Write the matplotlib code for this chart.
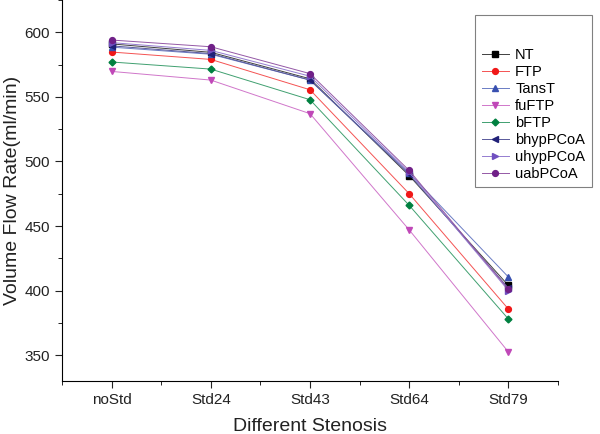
import matplotlib
matplotlib.use("Agg")
import matplotlib.pyplot as plt
from matplotlib.colors import to_rgb
from matplotlib.ticker import MultipleLocator, FixedLocator

plt.rcParams['font.family'] = ['Liberation Sans', 'DejaVu Sans']

stenosis = ['noStd', 'Std24', 'Std43', 'Std64', 'Std79']

nt = [591, 584.5, 564, 489, 404]
ftp = [584.7, 579, 555.5, 475, 385.7]
tanst = [588.5, 583, 563, 491, 410.5]
fuftp = [569.7, 563, 537, 447, 352.5]
bftp = [577, 571.5, 547.8, 466, 378]
bhyp = [589.5, 583.5, 563, 490, 402]
uhyp = [592, 586, 566, 491.5, 400]
uab = [594, 588.8, 568, 493, 401]

series = [
    ('NT', nt, '#000000', 's'),
    ('FTP', ftp, '#f01818', 'o'),
    ('TansT', tanst, '#3850b0', '^'),
    ('fuFTP', fuftp, '#c048b8', 'v'),
    ('bFTP', bftp, '#008040', 'D'),
    ('bhypPCoA', bhyp, '#202078', '<'),
    ('uhypPCoA', uhyp, '#7050c0', '>'),
    ('uabPCoA', uab, '#702088', 'o'),
]


def lighten(c, f=0.25):
    r, g, b = to_rgb(c)
    return (r + (1 - r) * f, g + (1 - g) * f, b + (1 - b) * f)


fig = plt.figure(figsize=(6, 4.34), dpi=100)
ax = fig.add_axes([62/600, 53/434, 496/600, 381/434])

x = list(range(len(stenosis)))
for name, vals, col, mk in series:
    ms = 3.5 if mk == 'D' else 4.2
    ax.plot(x, vals, color=lighten(col), lw=0.7, marker=mk, ms=ms,
            mfc=col, mec=col, label=name)

ax.set_xlim(-0.5, 4.5)
ax.set_ylim(330, 625)
ax.set_xticks(x)
ax.set_xticklabels(stenosis)
ax.xaxis.set_minor_locator(FixedLocator([-0.5, 0.5, 1.5, 2.5, 3.5, 4.5]))
ax.yaxis.set_major_locator(MultipleLocator(50))
ax.yaxis.set_minor_locator(MultipleLocator(25))
ax.tick_params(which='major', direction='out', length=5, labelsize=11, colors='#222222')
ax.tick_params(which='minor', direction='out', length=3)

ax.spines['top'].set_visible(False)
ax.spines['right'].set_visible(False)

ax.set_xlabel('Different Stenosis', fontsize=14, labelpad=8, color='#222222')
ax.set_ylabel('Volume Flow Rate(ml/min)', fontsize=14, labelpad=3, color='#222222')

leg = ax.legend(loc='upper right', bbox_to_anchor=(1.068, 0.961), fontsize=10.5,
                title=' ', title_fontsize=18, fancybox=False, framealpha=1,
                edgecolor='#808080', handlelength=1.9, handletextpad=0.4,
                labelspacing=0.2, borderpad=0.45, borderaxespad=0)
leg.get_frame().set_linewidth(0.8)

fig.savefig('out.png', dpi=100)
